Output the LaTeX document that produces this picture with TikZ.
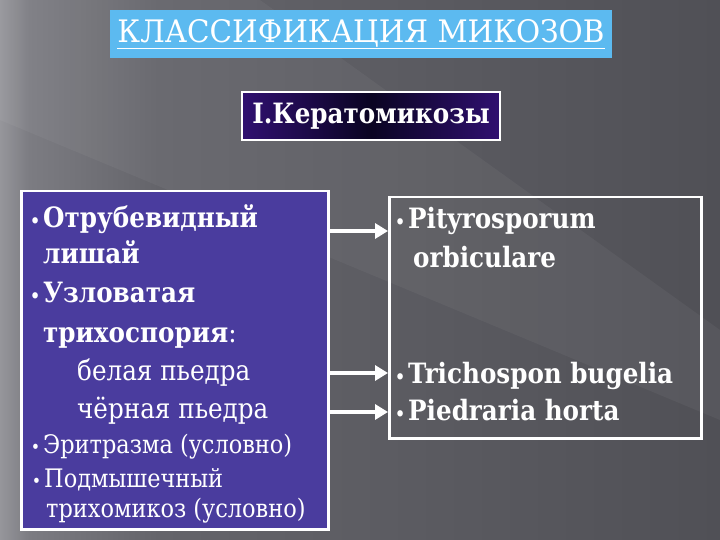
\documentclass[tikz,border=0pt]{standalone}
\usepackage{fontspec}
\setmainfont{DejaVu Serif}[FakeStretch=0.88]
\newfontfamily\titlefont{DejaVu Serif}[FakeStretch=0.95]
\usetikzlibrary{arrows.meta}
\definecolor{bgA}{RGB}{150,150,155}
\definecolor{bgB}{RGB}{124,124,130}
\definecolor{bgC}{RGB}{100,100,106}
\definecolor{bgD}{RGB}{80,80,86}
\pgfdeclarehorizontalshading{bgshade}{100bp}{color(0bp)=(bgA); color(25bp)=(bgA); color(27bp)=(bgB); color(36bp)=(bgC); color(75bp)=(bgD); color(100bp)=(bgD)}
\definecolor{titleblue}{RGB}{92,186,240}
\definecolor{boxindigo}{RGB}{74,60,158}
\definecolor{subindigo}{RGB}{48,16,112}
\definecolor{subdark}{RGB}{10,4,34}
\tikzset{
  panel/.style={draw=white, line width=2.5pt, inner sep=0pt, anchor=north west},
  bigb/.style={anchor=base west, inner sep=0pt, text=white, font=\rmfamily\fontsize{28}{28}\selectfont\bfseries},
  bigr/.style={anchor=base west, inner sep=0pt, text=white, font=\rmfamily\fontsize{28}{28}\selectfont},
  smallr/.style={anchor=base west, inner sep=0pt, text=white, font=\rmfamily\fontsize{25.5}{25.5}\selectfont},
  link/.style={draw=white, line width=4pt, -{Triangle[length=13pt,width=15pt]}}
}
\newcommand{\bul}{\llap{\fontsize{18}{18}\selectfont\textbullet\hspace{3pt}}}
\begin{document}
\begin{tikzpicture}[x=1pt,y=-1pt]
\useasboundingbox (0,0) rectangle (720,540);
% background
\shade[shading=bgshade] (0,0) rectangle (720,540);
\fill[white, opacity=0.045] (0,0) -- (260,0) -- (720,330) -- (720,420) -- (0,120) -- cycle;
% title
\node[fill=titleblue, minimum width=502pt, minimum height=48pt, inner sep=0pt, text=white,
      font=\titlefont\fontsize{31}{31}\selectfont] (title) at (361,34) {\underline{КЛАССИФИКАЦИЯ МИКОЗОВ}};
% subtitle
\shade[left color=subindigo, right color=subindigo, middle color=subdark] (242,92) rectangle (500,140);
\node[draw=white, line width=2pt, minimum width=258pt, minimum height=48pt, inner sep=0pt, text=white,
      font=\rmfamily\fontsize{28}{28}\selectfont\bfseries] (sub) at (371,116) {I.Кератомикозы};
% left panel
\node[panel, fill=boxindigo, minimum width=307pt, minimum height=338pt] (left) at (20,190) {};
\node[bigb] (l1) at (43,227) {\bul Отрубевидный};
\node[bigb] (l2) at (43,263) {лишай};
\node[bigb] (l3) at (43,302) {\bul Узловатая};
\node[bigb] (l4) at (43,342) {трихоспория\mdseries:};
\node[bigr] (l5) at (77,380) {белая пьедра};
\node[bigr] (l6) at (77,418) {чёрная пьедра};
\node[smallr] (l7) at (43,453) {\bul Эритразма (условно)};
\node[smallr] (l8) at (44,487) {\bul Подмышечный};
\node[smallr] (l9) at (46,517) {трихомикоз (условно)};
% right panel
\node[panel, minimum width=312pt, minimum height=241pt] (right) at (388,196) {};
\node[bigb] (r1) at (408,229) {\bul Pityrosporum};
\node[bigb] (r2) at (413,267) {orbiculare};
\node[bigb] (r3) at (408,383) {\bul Trichospon bugelia};
\node[bigb] (r4) at (408,420) {\bul Piedraria horta};
% arrows
\coordinate (a1) at (0,231);
\coordinate (a2) at (0,373);
\coordinate (a3) at (0,412);
\draw[link] (left.east |- a1) -- (right.west |- a1);
\draw[link] (left.east |- a2) -- (right.west |- a2);
\draw[link] (left.east |- a3) -- (right.west |- a3);
\end{tikzpicture}
\end{document}
